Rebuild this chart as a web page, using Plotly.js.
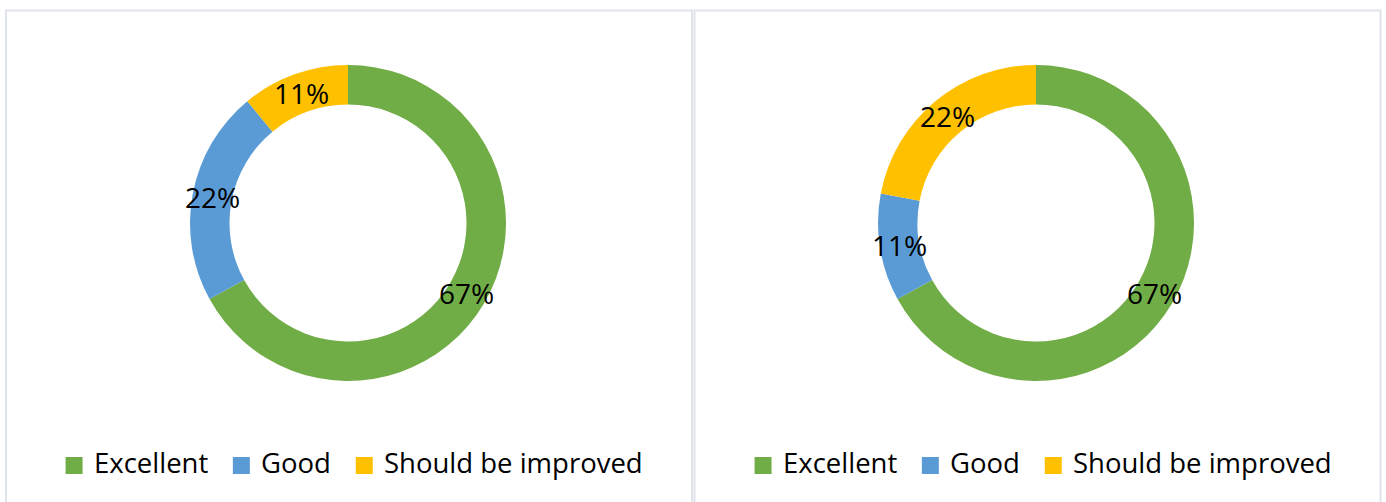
<!DOCTYPE html>
<html>
<head>
<meta charset="utf-8">
<script src="https://cdn.plot.ly/plotly-3.0.1.min.js"></script>
<style>html,body{margin:0;padding:0;background:#fff;}#chart{width:1386px;height:502px;}</style>
</head>
<body>
<div id="chart"></div>
<script>
// Data
const categories = ["Excellent", "Good", "Should be improved"];
const leftValues = [67, 22, 11];
const rightValues = [67, 11, 22];
const colors = ["#70ad47", "#5b9bd5", "#ffc000"];

const W = 1386, H = 502;
const FONT = "Open Sans";
const LABEL_SIZE = 28, LEGEND_SIZE = 27.5;
const R = 158, HOLE = 0.75;
const centers = [{x: 348, y: 223}, {x: 1036, y: 223}];
const legendCenters = [353, 1042];
const LEGEND_Y = 465.5;

function domainFor(c) {
  return {
    x: [(c.x - R) / W, (c.x + R) / W],
    y: [1 - (c.y + R) / H, 1 - (c.y - R) / H]
  };
}

function pieTrace(values, c) {
  return {
    type: "pie",
    labels: categories,
    values: values,
    hole: HOLE,
    sort: false,
    direction: "clockwise",
    rotation: 0,
    textinfo: "none",
    marker: {colors: colors, line: {width: 0}},
    domain: domainFor(c),
    showlegend: false,
    hoverinfo: "label+percent"
  };
}

function labelAnnotations(values, c) {
  const total = values.reduce((a, b) => a + b, 0);
  const rMid = R * (1 + HOLE) / 2;
  let cum = 0;
  return values.map(v => {
    const mid = (cum + v / 2) / total * 2 * Math.PI;
    cum += v;
    const px = c.x + rMid * Math.sin(mid);
    const py = c.y - rMid * Math.cos(mid);
    return {
      x: px / W, y: 1 - py / H, xref: "paper", yref: "paper",
      text: Math.round(v / total * 100) + "%",
      showarrow: false, xanchor: "center", yanchor: "middle",
      font: {family: FONT, size: LABEL_SIZE, color: "#000"}
    };
  });
}

// Legend laid out from measured text widths
const ctx = document.createElement("canvas").getContext("2d");
ctx.font = LEGEND_SIZE + "px '" + FONT + "'";
const SQ = 17, GAP_SQ = 9, GAP_ITEM = 27;
function legendParts(cx) {
  const widths = categories.map(t => ctx.measureText(t).width);
  let total = 0;
  widths.forEach((w, i) => { total += SQ + GAP_SQ + w + (i < widths.length - 1 ? GAP_ITEM : 0); });
  let x = cx - total / 2;
  const shapes = [], anns = [];
  categories.forEach((t, i) => {
    shapes.push({type: "rect", xref: "paper", yref: "paper",
      x0: x / W, x1: (x + SQ) / W, y0: 1 - (LEGEND_Y + SQ / 2) / H, y1: 1 - (LEGEND_Y - SQ / 2) / H,
      fillcolor: colors[i], line: {width: 0}});
    x += SQ + GAP_SQ;
    anns.push({x: x / W, y: 1 - (LEGEND_Y - 3) / H, xref: "paper", yref: "paper", text: t,
      showarrow: false, xanchor: "left", yanchor: "middle",
      font: {family: FONT, size: LEGEND_SIZE, color: "#000"}});
    x += widths[i] + GAP_ITEM;
  });
  return {shapes, anns};
}

const data = [pieTrace(leftValues, centers[0]), pieTrace(rightValues, centers[1])];
const lg1 = legendParts(legendCenters[0]);
const lg2 = legendParts(legendCenters[1]);

const layout = {
  width: W, height: H,
  margin: {l: 0, r: 0, t: 0, b: 0},
  paper_bgcolor: "#fff",
  showlegend: false,
  shapes: [
    {type: "rect", xref: "paper", yref: "paper", x0: 6 / W, x1: 692 / W, y0: -0.1, y1: 1 - 10.5 / H,
     line: {color: "#dfe3ea", width: 2}, fillcolor: "rgba(0,0,0,0)", layer: "below"},
    {type: "rect", xref: "paper", yref: "paper", x0: 694.5 / W, x1: 1380.5 / W, y0: -0.1, y1: 1 - 10.5 / H,
     line: {color: "#dfe3ea", width: 2}, fillcolor: "rgba(0,0,0,0)", layer: "below"}
  ].concat(lg1.shapes, lg2.shapes),
  annotations: labelAnnotations(leftValues, centers[0])
    .concat(labelAnnotations(rightValues, centers[1]), lg1.anns, lg2.anns)
};

Plotly.newPlot("chart", data, layout, {displayModeBar: false, staticPlot: true});
</script>
</body>
</html>
